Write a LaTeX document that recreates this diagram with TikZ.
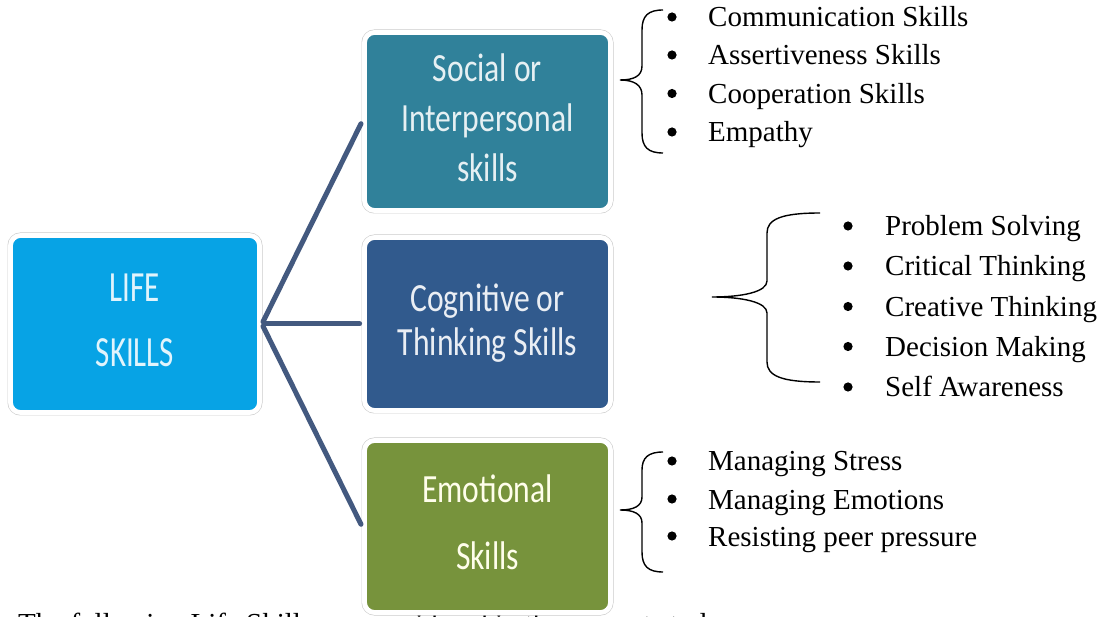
\documentclass[tikz,border=0pt]{standalone}
\usepackage{fontspec}
\setmainfont{Liberation Serif}
\newfontfamily\boxfont{Carlito}
\usepackage{graphicx}
\definecolor{lifeblue}{HTML}{07A3E5}
\definecolor{socteal}{HTML}{30819A}
\definecolor{cogblue}{HTML}{315A8D}
\definecolor{emogreen}{HTML}{77933C}
\definecolor{linkcol}{HTML}{43597F}
\newcommand\boxlines[2][0.79]{\scalebox{#1}[1]{\begin{tabular}{@{}c@{}}#2\end{tabular}}}
\begin{document}
\begin{tikzpicture}[x=1pt,y=-1pt,
  skillbox/.style={rounded corners=10pt, inner sep=0pt, draw=white, line width=4.8pt,
    preaction={draw=black!20, line width=6pt},
    font=\boxfont\fontsize{40}{48}\selectfont, align=center},
  link/.style={draw=linkcol, line width=5pt, line cap=round, shorten <=2.5pt, shorten >=2.5pt},
  item/.style={anchor=base west, inner sep=0pt, font=\fontsize{29}{34}\selectfont},
  bracepath/.style={draw=black, line width=1.4pt},
  dotmark/.style={fill=black}
]
\useasboundingbox (0,0) rectangle (1101,617);
\fill[white] (0,0) rectangle (1101,617);

% partially visible caption at the bottom (behind the green box)
\begin{scope}
\clip (0,0) rectangle (1101,617);
\node[item] (note) at (18,633) {The following Life Skills are considered in the present study};
\end{scope}

% boxes
\node[skillbox, fill=lifeblue, text=white!88!lifeblue, minimum width=249pt, minimum height=177pt] (life) at (135,324)
  {\fontsize{43}{48}\selectfont\boxlines[0.72]{LIFE\\[17pt] SKILLS}};
\node[skillbox, fill=socteal, text=white!88!socteal, minimum width=246pt, minimum height=178pt] (soc) at (487.5,121.5)
  {\boxlines{Social or\\[2pt] Interpersonal\\[2pt] skills}};
\node[skillbox, fill=cogblue, text=white!90!cogblue, minimum width=246pt, minimum height=173pt] (cog) at (487.5,324)
  {\boxlines{Cognitive or\\[-4pt] Thinking Skills}};
\node[skillbox, fill=emogreen, text=yellow!8!white, minimum width=246pt, minimum height=172pt] (emo) at (487.5,526.5)
  {\boxlines{Emotional\\[19pt] Skills}};

% connectors
\draw[link] (life.east) -- (soc.west);
\draw[link] (life.east) -- (cog.west);
\draw[link] (life.east) -- (emo.west);

% braces
\draw[bracepath] (663,10) .. controls (648,10) and (642,16) .. (642,30) -- (642,66)
  .. controls (642,76) and (634,80) .. (620,80)
  .. controls (634,80) and (642,85) .. (642,95) -- (642,133)
  .. controls (642,147) and (648,153) .. (663,153);
\draw[bracepath] (820,213) .. controls (782,213) and (767,219) .. (767,233) -- (767,281)
  .. controls (767,292) and (742,297) .. (712,297)
  .. controls (742,297) and (767,302) .. (767,313) -- (767,362)
  .. controls (767,376) and (782,382) .. (820,382);
\draw[bracepath] (663,452) .. controls (648,452) and (642,458) .. (642,470) -- (642,497)
  .. controls (642,506) and (634,510) .. (620,510)
  .. controls (634,510) and (642,514) .. (642,523) -- (642,552)
  .. controls (642,566) and (648,572) .. (663,572);

% social items
\node[item] (s1) at (708,27) {Communication Skills};
\node[item] (s2) at (708,65) {Assertiveness Skills};
\node[item] (s3) at (708,103.5) {Cooperation Skills};
\node[item] (s4) at (708,142) {Empathy};

% cognitive items
\node[item] (c1) at (885,236) {Problem Solving};
\node[item] (c2) at (885,276) {Critical Thinking};
\node[item] (c3) at (885,316.5) {Creative Thinking};
\node[item] (c4) at (885,356.5) {Decision Making};
\node[item] (c5) at (885,397) {Self Awareness};

% emotional items
\node[item] (e1) at (708,471) {Managing Stress};
\node[item] (e2) at (708,509) {Managing Emotions};
\node[item] (e3) at (708,546) {Resisting peer pressure};

% bullets
\foreach \n in {s1,s2,s3,s4,e1,e2,e3}
  \fill[dotmark] ([xshift=-36pt,yshift=10pt]\n.base west) circle (4.6pt);
\foreach \n in {c1,c2,c3,c4,c5}
  \fill[dotmark] ([xshift=-37pt,yshift=10pt]\n.base west) circle (4.6pt);
\end{tikzpicture}
\end{document}
